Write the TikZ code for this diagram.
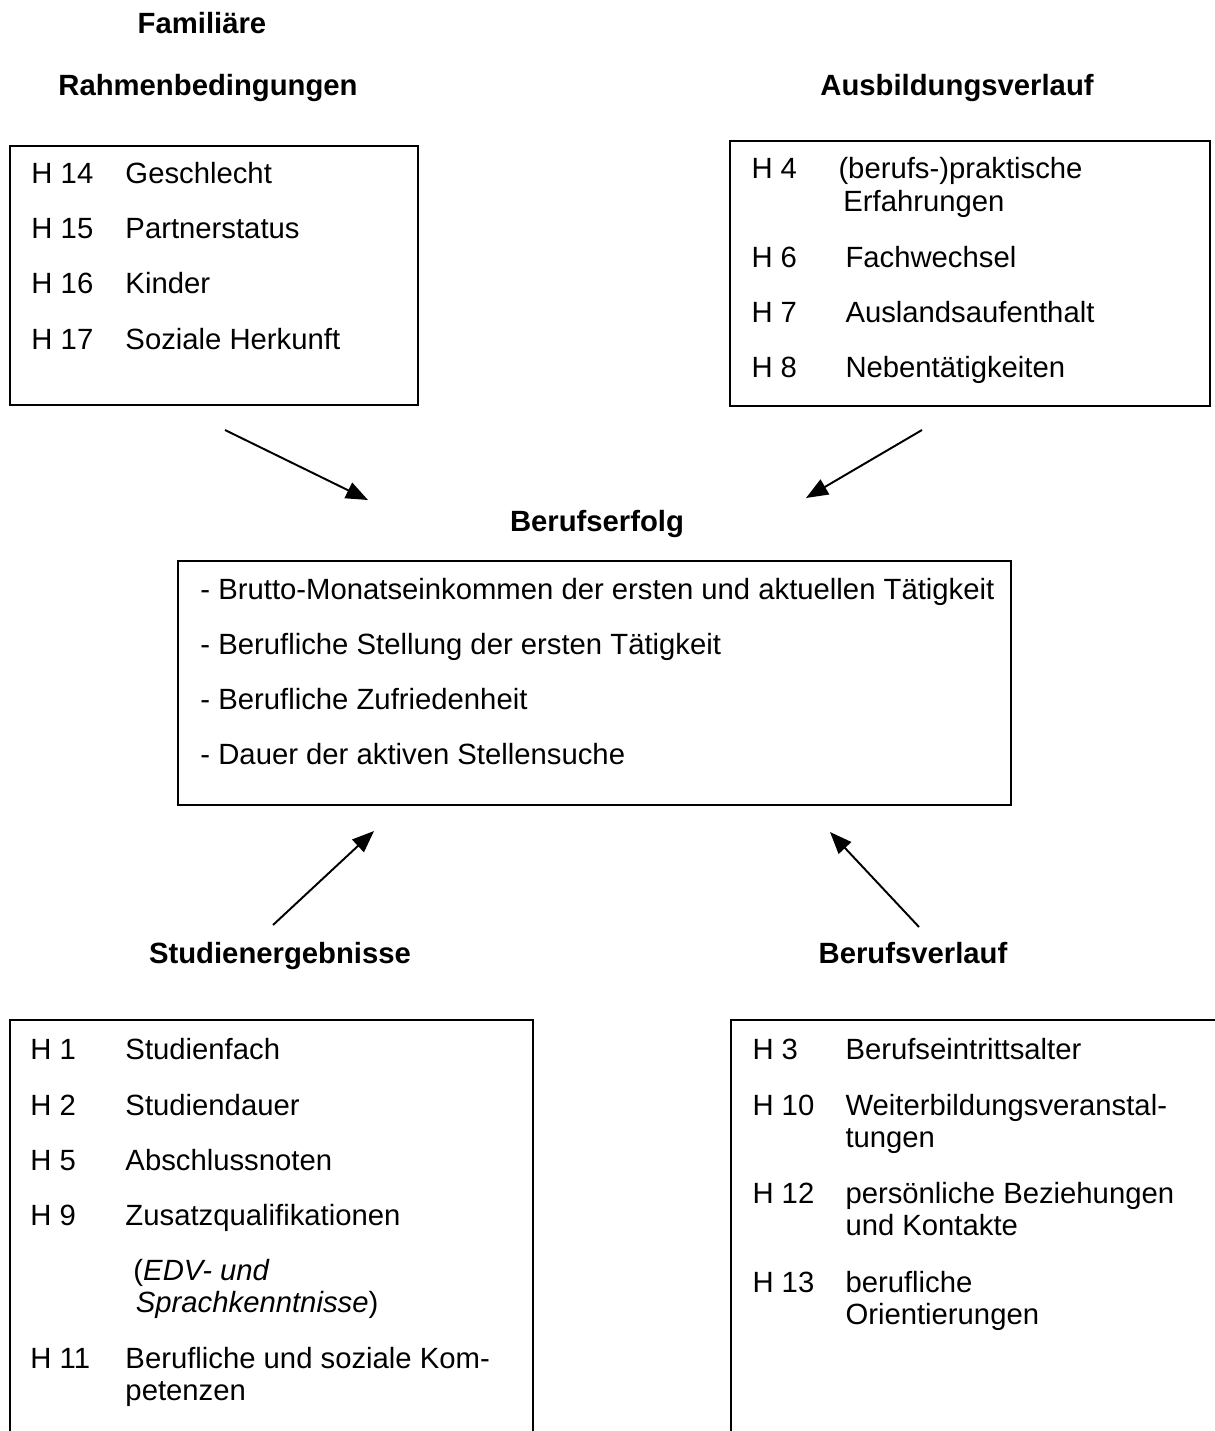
\documentclass[tikz,border=0pt]{standalone}
\usepackage{fontspec}
\setmainfont{Liberation Sans}
\usetikzlibrary{arrows.meta}
% lines stacked on the baseline of the first one
\newcommand\stack[2][13.5pt]{\vtop{\baselineskip=#1\let\\\cr\halign{##\hfil\cr#2\crcr}}}
\tikzset{hypo/.style={x=0.41pt,y=-0.41pt,font=\fontsize{12pt}{13.5pt}\selectfont},
  head/.style={font=\fontsize{12pt}{13.5pt}\selectfont\bfseries,anchor=base,inner sep=0pt},
  item/.style={anchor=base west,inner sep=0pt},
  frame/.style={line width=0.9pt},
  effect/.style={line width=0.8pt,-{Triangle[length=9pt,width=7pt]}}}

\begin{document}
\begin{tikzpicture}[hypo]
    \useasboundingbox (0,0) rectangle (1215,1431);
    % headings
    \node[head] (famA) at (202,34) {Familiäre};
    \node[head] (famB) at (208,96) {Rahmenbedingungen};
    \node[head] (ausb) at (957,96) {Ausbildungsverlauf};
    \node[head] (erfolg) at (597,531) {Berufserfolg};
    \node[head] (studium) at (280,963) {Studienergebnisse};
    \node[head] (beruf) at (913,963) {Berufsverlauf};
    % boxes (the lower two run off the page)
    \draw[frame] (10,146) rectangle (418,405);
    \draw[frame] (730,141) rectangle (1210,406);
    \draw[frame] (178,561) rectangle (1011,805);
    \draw[frame] (10,1431) -- (10,1020) -- (533,1020) -- (533,1431);
    \draw[frame] (731,1431) -- (731,1020) -- (1215,1020);
    % familiaere Rahmenbedingungen
    \foreach \h/\t/\y in {14/Geschlecht/184, 15/Partnerstatus/239, 16/Kinder/294, 17/Soziale Herkunft/349}{
      \node[item] (fh\h) at (31,\y) {H \h};
      \node[item] (ft\h) at (125,\y) {\t};
    }
    % Ausbildungsverlauf
    \node[item] (ah4) at (751,179) {H 4};
    \node[item] (at4) at (838,179) {\stack{(berufs-)praktische\\\hspace*{2pt}Erfahrungen}};
    \foreach \h/\t/\y in {6/Fachwechsel/268, 7/Auslandsaufenthalt/323, 8/Nebentätigkeiten/378}{
      \node[item] (ah\h) at (751,\y) {H \h};
      \node[item] (at\h) at (845,\y) {\t};
    }
    % Berufserfolg
    \foreach \t [count=\i] in {Brutto-Monatseinkommen der ersten und aktuellen Tätigkeit,
        Berufliche Stellung der ersten Tätigkeit, Berufliche Zufriedenheit,
        Dauer der aktiven Stellensuche}{
      \node[item] (e\i) at (200,{544+55*\i}) {- \t};
    }
    % Studienergebnisse
    \foreach \h/\t/\y in {1/Studienfach/1059, 2/Studiendauer/1115, 5/Abschlussnoten/1170,
        9/Zusatzqualifikationen/1225, 11/{Berufliche und soziale Kom-\\petenzen}/1368}{
      \node[item] (sh\h) at (30,\y) {H \h};
      \node[item] (st\h) at (125,\y) {\stack{\t}};
    }
    \node[item] (edv) at (133,1280) {\stack{(\textit{EDV- und}\\\hspace*{1pt}\textit{Sprachkenntnisse})}};
    % Berufsverlauf
    \foreach \h/\t/\y in {3/Berufseintrittsalter/1059, 10/{Weiterbildungsveranstal-\\tungen}/1115,
        12/{persönliche Beziehungen\\und Kontakte}/1203, 13/{berufliche\\Orientierungen}/1292}{
      \node[item] (bh\h) at (752,\y) {H \h};
      \node[item] (bt\h) at (845,\y) {\stack{\t}};
    }
    % influences on Berufserfolg
    \coordinate (fFrom) at (225,430); \coordinate (fTo) at (368,500);
    \coordinate (aFrom) at (922,430); \coordinate (aTo) at (806,498);
    \coordinate (sFrom) at (273,925); \coordinate (sTo) at (374,831);
    \coordinate (bFrom) at (919,927); \coordinate (bTo) at (830,832);
    \foreach \s in {f,a,s,b} \draw[effect] (\s From) -- (\s To);
\end{tikzpicture}
\end{document}
